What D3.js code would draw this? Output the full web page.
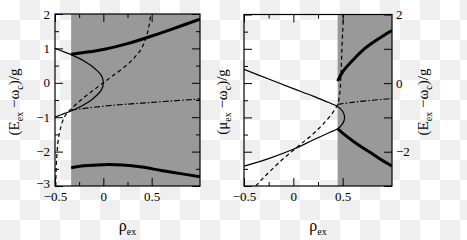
<!DOCTYPE html>
<html>
<head>
<meta charset="utf-8">
<script src="https://cdn.jsdelivr.net/npm/d3@7"></script>
<style>
  body { margin: 0; background: #fff; }
  svg { display: block; }
  text { font-family: "Liberation Serif", "Times New Roman", Times, serif; fill: #000; }
  .tick text { font-size: 13px; }
  .tick line { stroke: #000; stroke-width: 1; }
</style>
</head>
<body>
<script>
// picture size
const WIDTH = 467;
const HEIGHT = 240;

// shared axis ranges
const X_DOMAIN = [-0.5, 1.0];
const Y_DOMAIN = [-3, 2];
const X_MAJOR = [-0.5, 0, 0.5];
const X_MINOR = [-0.25, 0.25];
const Y_MAJOR = [-3, -2, -1, 0, 1, 2];
const Y_MINOR = [-2.5, -1.5, -0.5, 0.5, 1.5];
const Y_RIGHT_LABELS = [-2, 0, 2];

// left panel: shaded band and curves, [rho, energy]
const LEFT_SHADE = [-0.333, 1.0];
const leftThin = [
  [-0.5, 1.0], [-0.4, 0.89], [-0.333, 0.82], [-0.25, 0.71], [-0.18, 0.6],
  [-0.12, 0.49], [-0.07, 0.37], [-0.03, 0.25], [-0.008, 0.13], [0, 0],
  [-0.008, -0.13], [-0.03, -0.25], [-0.07, -0.37], [-0.12, -0.49], [-0.18, -0.6],
  [-0.25, -0.71], [-0.333, -0.82], [-0.4, -0.89], [-0.5, -1.0]
];
const leftThickUp = [
  [-0.333, 0.83], [-0.2, 0.88], [0, 0.97], [0.25, 1.14], [0.5, 1.36], [0.75, 1.6], [1.0, 1.85]
];
const leftThickDown = [
  [-0.333, -2.47], [-0.2, -2.41], [0, -2.38], [0.2, -2.39], [0.4, -2.45],
  [0.6, -2.55], [0.8, -2.64], [1.0, -2.73]
];
const leftDashed = [
  [-0.492, -3.0], [-0.483, -2.2], [-0.455, -1.47], [-0.4, -0.98], [-0.333, -0.76],
  [-0.21, -0.45], [-0.1, -0.21], [0, 0], [0.1, 0.21], [0.245, 0.52], [0.33, 0.76],
  [0.385, 0.95], [0.42, 1.15], [0.455, 1.44], [0.475, 1.7], [0.49, 1.97], [0.492, 2.0]
];
const leftDashDot = [
  [-0.333, -0.79], [0, -0.68], [0.25, -0.62], [0.5, -0.57], [0.75, -0.52], [1.0, -0.47]
];

// right panel
const RIGHT_SHADE = [0.449, 1.0];
const rightThin = [
  [-0.5, 0.4], [-0.25, 0.12], [0, -0.16], [0.2, -0.38], [0.35, -0.56], [0.449, -0.68],
  [0.5, -0.82], [0.52, -1.0], [0.5, -1.18], [0.449, -1.33], [0.35, -1.46],
  [0.2, -1.66], [0, -1.93], [-0.25, -2.2], [-0.5, -2.42]
];
const rightThickUp = [
  [0.449, 0.06], [0.5, 0.33], [0.6, 0.66], [0.7, 0.95], [0.8, 1.17], [0.9, 1.36], [1.0, 1.53]
];
const rightThickDown = [
  [0.449, -1.33], [0.5, -1.46], [0.6, -1.68], [0.7, -1.88], [0.8, -2.06], [0.9, -2.25], [1.0, -2.42]
];
const rightDashed = [
  [-0.38, -3.0], [-0.3, -2.75], [-0.2, -2.47], [-0.1, -2.2], [0, -1.96], [0.1, -1.72],
  [0.2, -1.48], [0.3, -1.2], [0.4, -0.86], [0.449, -0.62], [0.47, -0.3], [0.48, 0.1],
  [0.49, 0.8], [0.5, 1.5], [0.508, 2.0]
];
const rightDashDot = [
  [0.449, -0.62], [0.6, -0.56], [0.8, -0.5], [1.0, -0.45]
];

const SHADE_COLOR = "#999999";

const svg = d3.select("body").append("svg")
  .attr("width", WIDTH)
  .attr("height", HEIGHT);

// transparent-looking checker background
const defs = svg.append("defs");
const pat = defs.append("pattern")
  .attr("id", "checker")
  .attr("width", 40).attr("height", 40)
  .attr("patternUnits", "userSpaceOnUse");
pat.append("rect").attr("width", 40).attr("height", 40).attr("fill", "#ffffff");
pat.append("rect").attr("x", 20).attr("width", 20).attr("height", 20).attr("fill", "#efefef");
pat.append("rect").attr("y", 20).attr("width", 20).attr("height", 20).attr("fill", "#efefef");
svg.append("rect").attr("width", WIDTH).attr("height", HEIGHT).attr("fill", "url(#checker)");

function drawPanel(opts) {
  const x = d3.scaleLinear().domain(X_DOMAIN).range([opts.x0, opts.x1]);
  const y = d3.scaleLinear().domain(Y_DOMAIN).range([opts.y1, opts.y0]);
  const g = svg.append("g");

  // shaded region
  g.append("rect")
    .attr("x", x(opts.shade[0]))
    .attr("y", y(Y_DOMAIN[1]))
    .attr("width", x(opts.shade[1]) - x(opts.shade[0]))
    .attr("height", y(Y_DOMAIN[0]) - y(Y_DOMAIN[1]))
    .attr("fill", SHADE_COLOR);

  const clipId = "clip" + opts.id;
  defs.append("clipPath").attr("id", clipId)
    .append("rect")
    .attr("x", opts.x0).attr("y", opts.y0)
    .attr("width", opts.x1 - opts.x0).attr("height", opts.y1 - opts.y0);

  const line = d3.line()
    .x(d => x(d[0]))
    .y(d => y(d[1]))
    .curve(d3.curveCatmullRom.alpha(0.5));

  const curves = g.append("g").attr("clip-path", `url(#${clipId})`);
  opts.curves.forEach(c => {
    curves.append("path")
      .attr("d", line(c.data))
      .attr("fill", "none")
      .attr("stroke", "#000")
      .attr("stroke-width", c.width)
      .attr("stroke-dasharray", c.dash || null);
  });

  // axes with inward ticks
  const MAJ = 8, MIN = 4;
  const addAxis = (axis, tr, labels) => {
    const a = g.append("g").attr("transform", tr).call(axis);
    a.attr("font-family", null).attr("font-size", null);
    a.select(".domain").remove();
    if (!labels) a.selectAll("text").remove();
    return a;
  };
  const fmtX = d => d === 0 ? "0" : d3.format(".1f")(d).replace("-", "\u2212");
  const fmtY = d => String(d).replace("-", "\u2212");

  addAxis(d3.axisBottom(x).tickValues(X_MAJOR).tickSize(-MAJ).tickPadding(6).tickFormat(fmtX),
    `translate(0,${opts.y1})`, true);
  addAxis(d3.axisBottom(x).tickValues(X_MINOR).tickSize(-MIN), `translate(0,${opts.y1})`, false);
  addAxis(d3.axisTop(x).tickValues(X_MAJOR).tickSize(-MAJ), `translate(0,${opts.y0})`, false);
  addAxis(d3.axisTop(x).tickValues(X_MINOR).tickSize(-MIN), `translate(0,${opts.y0})`, false);

  const yl = addAxis(d3.axisLeft(y).tickValues(Y_MAJOR).tickSize(-MAJ).tickPadding(5).tickFormat(fmtY),
    `translate(${opts.x0},0)`, opts.leftLabels);
  // lowest label sits a bit higher, as in the figure
  yl.selectAll(".tick").filter(d => d === -3).select("text").attr("dy", "0.1em");
  addAxis(d3.axisLeft(y).tickValues(Y_MINOR).tickSize(-MIN), `translate(${opts.x0},0)`, false);
  if (opts.rightLabels) {
    addAxis(d3.axisRight(y).tickValues(Y_MAJOR).tickSize(-MAJ), `translate(${opts.x1},0)`, false);
    addAxis(d3.axisRight(y).tickValues(Y_RIGHT_LABELS).tickSize(0).tickPadding(4).tickFormat(fmtY),
      `translate(${opts.x1},0)`, true);
  } else {
    addAxis(d3.axisRight(y).tickValues(Y_MAJOR).tickSize(-MAJ), `translate(${opts.x1},0)`, false);
    addAxis(d3.axisRight(y).tickValues(Y_MINOR).tickSize(-MIN), `translate(${opts.x1},0)`, false);
  }

  // frame
  g.append("rect")
    .attr("x", opts.x0).attr("y", opts.y0)
    .attr("width", opts.x1 - opts.x0).attr("height", opts.y1 - opts.y0)
    .attr("fill", "none").attr("stroke", "#000").attr("stroke-width", 1.2);

  // x label
  const xl = g.append("text")
    .attr("x", (opts.x0 + opts.x1) / 2)
    .attr("y", 231)
    .attr("text-anchor", "middle")
    .attr("font-size", 16);
  xl.append("tspan").text("\u03c1");
  xl.append("tspan").attr("font-size", 10).attr("dy", 4).text("ex");
  return { x, y };
}

// y axis titles, rotated
function yTitle(cx, cy, sym) {
  const t = svg.append("text")
    .attr("transform", `translate(${cx},${cy}) rotate(-90)`)
    .attr("text-anchor", "middle")
    .attr("font-size", 15);
  t.append("tspan").text("(" + sym);
  t.append("tspan").attr("font-size", 10).attr("dy", 4).text("ex");
  t.append("tspan").attr("dy", -4).text(" \u2212\u03c9");
  t.append("tspan").attr("font-size", 10).attr("dy", 4).text("c");
  t.append("tspan").attr("dy", -4).text(")/g");
}

drawPanel({
  id: "L", x0: 55, x1: 200, y0: 14, y1: 186,
  shade: LEFT_SHADE, leftLabels: true, rightLabels: false,
  curves: [
    { data: leftThin, width: 1.2 },
    { data: leftThickUp, width: 3 },
    { data: leftThickDown, width: 3 },
    { data: leftDashed, width: 1.2, dash: "4,3" },
    { data: leftDashDot, width: 1.2, dash: "6,2,1.5,2" }
  ]
});

drawPanel({
  id: "R", x0: 244, x1: 392, y0: 14.5, y1: 186,
  shade: RIGHT_SHADE, leftLabels: false, rightLabels: true,
  curves: [
    { data: rightThin, width: 1.2 },
    { data: rightThickUp, width: 3 },
    { data: rightThickDown, width: 3 },
    { data: rightDashed, width: 1.2, dash: "4,3" },
    { data: rightDashDot, width: 1.2, dash: "6,2,1.5,2" }
  ]
});

yTitle(19, 102, "E");
yTitle(227, 102, "\u03bc");
yTitle(428, 102, "E");
</script>
</body>
</html>
